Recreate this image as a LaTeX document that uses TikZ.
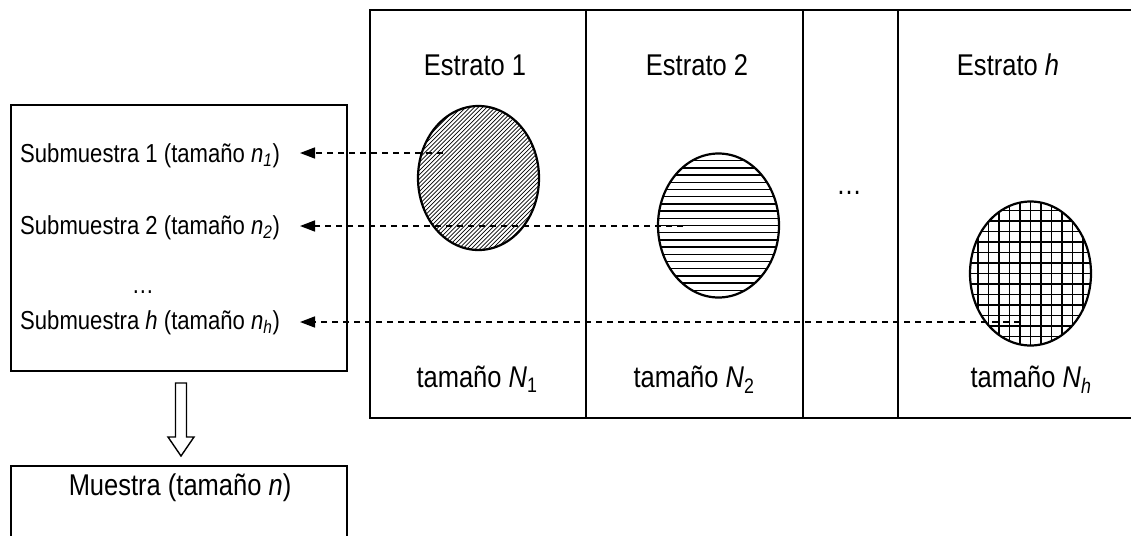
\documentclass[tikz,border=0pt]{standalone}
\usepackage{fontspec}
\setmainfont{Liberation Sans}[FakeStretch=0.85]
\usetikzlibrary{arrows.meta,shapes.geometric}
\begin{document}
\begin{tikzpicture}[x=1pt,y=-1pt,
  frame/.style={line width=2.2pt},
  big/.style={font=\fontsize{30}{36}\selectfont, inner sep=0pt, anchor=base},
  small/.style={font=\fontsize{26}{31}\selectfont, inner sep=0pt, anchor=base west},
  blob/.style={ellipse, draw, line width=2.2pt, minimum width=121pt, minimum height=144pt, inner sep=0pt},
  link/.style={dash pattern=on 6pt off 5pt, line width=1.6pt, -{Triangle[length=15pt,width=11pt]}}
]
\useasboundingbox (0,0) rectangle (1131,535);

% strata frame
\draw[frame] (1140,10) -| (370,418) -- (1140,418);
\draw[frame] (586,10) -- (586,418);
\draw[frame] (803,10) -- (803,418);
\draw[frame] (898,10) -- (898,418);

\node[big] (h1) at (475,75) {Estrato 1};
\node[big] (h2) at (697,75) {Estrato 2};
\node[big] (h3) at (1008,75) {Estrato \textit{h}};
\node[big] (dots) at (849,194) {…};

\node[big] (f1) at (477,387) {tamaño \textit{N}\textsubscript{1}};
\node[big] (f2) at (694,387) {tamaño \textit{N}\textsubscript{2}};
\node[big] (f3) at (1031,387) {tamaño \textit{N}\textsubscript{\textit{h}}};

% ellipses
\node[blob, path picture={
  \foreach \i in {-180,-175.8,...,180}
    \draw[line width=0.7pt] ([xshift=\i pt]path picture bounding box.center) +(-90pt,-90pt) -- +(90pt,90pt);
}] (e1) at (478.5,178) {};
\node[blob, path picture={
  \foreach \i in {-72,-64.8,...,72}
    \draw[line width=1.5pt] ([yshift=\i pt]path picture bounding box.center) +(-70pt,0pt) -- +(70pt,0pt);
}] (e2) at (718.5,225.5) {};
\node[blob, path picture={
  \foreach \i in {-73.5,-63,...,73.5}{
    \draw[line width=1.6pt] ([xshift=\i pt]path picture bounding box.center) +(0pt,-80pt) -- +(0pt,80pt);
    \draw[line width=1.6pt] ([yshift=\i pt]path picture bounding box.center) +(-70pt,0pt) -- +(70pt,0pt);
  }
}] (e3) at (1030.5,273.5) {};

% left box
\draw[frame] (11,105) rectangle (347,371);
\node[small] (s1) at (20,162.5) {Submuestra 1 (tamaño \textit{n}\textsubscript{\textit{1}})};
\node[small] (s2) at (20,234) {Submuestra 2 (tamaño \textit{n}\textsubscript{\textit{2}})};
\node[small, anchor=base] (sd) at (143,293) {…};
\node[small] (s3) at (20,329) {Submuestra \textit{h} (tamaño \textit{n}\textsubscript{\textit{h}})};

% dashed connectors
\coordinate (a1) at (443,153);
\coordinate (b1) at (300,153);
\coordinate (a2) at (683,226);
\coordinate (b2) at (300,226);
\coordinate (a3) at (1020,322);
\coordinate (b3) at (300,322);
\draw[link] (a1) -- (b1);
\draw[link] (a2) -- (b2);
\draw[link] (a3) -- (b3);

% hollow arrow
\draw[line width=1.4pt, line join=miter] (175.5,383) -- (186.5,383) -- (186.5,437) -- (194,437) -- (181,456) -- (168,437) -- (175.5,437) -- cycle;

% sample box
\draw[frame] (11,545) |- (347,466) -- (347,545);
\node[big] (m) at (180,495) {Muestra (tamaño \textit{n})};
\end{tikzpicture}
\end{document}
